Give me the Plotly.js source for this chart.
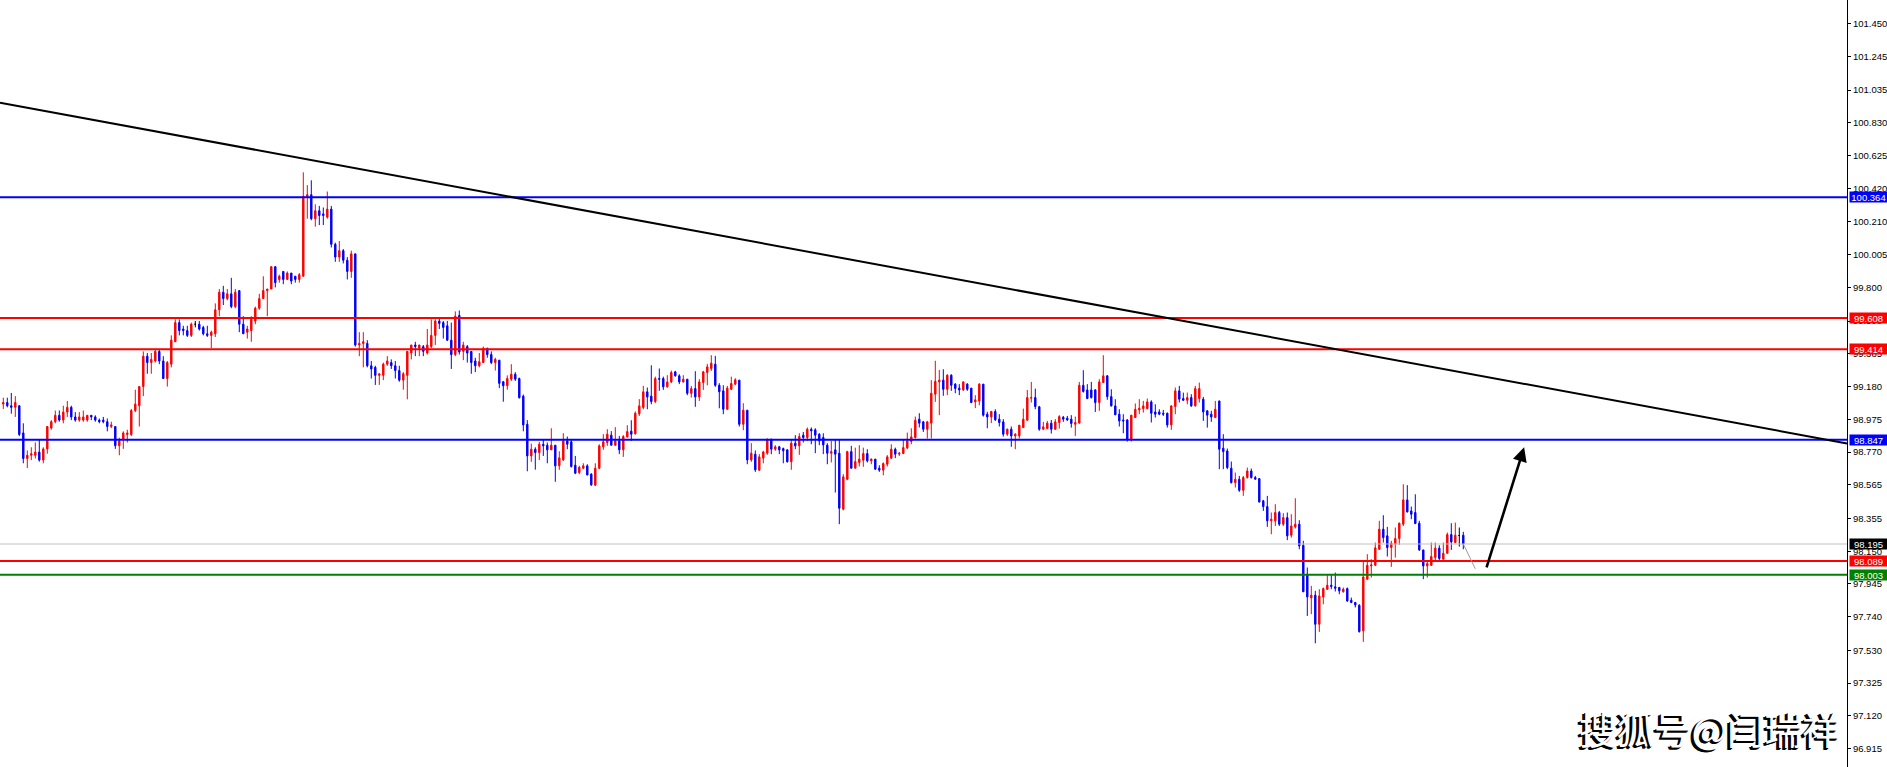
<!DOCTYPE html>
<html><head><meta charset="utf-8">
<script src="https://cdn.plot.ly/plotly-3.0.1.min.js"></script>
<style>html,body{margin:0;padding:0;background:#fff;overflow:hidden}#chart{width:1887px;height:767px}</style>
</head><body><div id="chart"></div>
<script>
// ---- candle data (one bar per index) ----
const openP = [99.07,99.08,99.06,99.05,99.06,98.89,98.73,98.75,98.75,98.77,
98.72,98.79,98.92,98.96,99.00,98.97,99.02,99.05,98.99,98.97,
98.97,98.97,99.00,98.99,98.97,98.97,98.96,98.93,98.93,98.81,
98.85,98.88,98.88,99.03,99.06,99.18,99.37,99.33,99.34,99.40,
99.34,99.23,99.32,99.46,99.58,99.54,99.53,99.50,99.57,99.57,
99.55,99.51,99.50,99.51,99.66,99.77,99.73,99.76,99.68,99.78,
99.57,99.52,99.53,99.59,99.67,99.73,99.78,99.79,99.93,99.85,
99.90,99.85,99.89,99.87,99.85,99.87,100.37,100.38,100.23,100.28,
100.26,100.24,100.29,100.07,99.99,100.03,99.97,99.90,100.01,99.44,
99.45,99.45,99.31,99.30,99.25,99.25,99.32,99.33,99.31,99.28,
99.22,99.25,99.39,99.44,99.42,99.43,99.39,99.43,99.50,99.59,
99.58,99.56,99.47,99.38,99.625,99.40,99.43,99.40,99.34,99.31,
99.33,99.42,99.38,99.33,99.345,99.21,99.185,99.226,99.257,99.23,
99.12,98.944,98.746,98.788,98.767,98.819,98.813,98.784,98.813,98.684,
98.721,98.84,98.834,98.688,98.642,98.669,98.684,98.632,98.563,98.669,
98.803,98.83,98.876,98.813,98.84,98.784,98.865,98.901,98.884,99.009,
99.049,99.147,99.12,99.086,99.23,99.23,99.178,99.209,99.272,99.247,
99.209,99.226,99.138,99.167,99.115,99.205,99.268,99.293,99.32,99.188,
99.153,99.038,99.163,99.195,99.22,98.944,99.032,98.721,98.757,98.657,
98.732,98.763,98.851,98.788,98.803,98.792,98.784,98.709,98.826,98.809,
98.876,98.861,98.913,98.909,98.882,98.861,98.813,98.763,98.784,98.763,
98.413,98.60,98.773,98.669,98.705,98.719,98.761,98.715,98.726,98.669,
98.657,98.694,98.732,98.788,98.757,98.761,98.796,98.836,98.861,98.976,
98.959,98.913,98.951,99.132,99.209,99.22,99.163,99.251,99.195,99.17,
99.159,99.195,99.17,99.084,99.09,99.195,99.007,98.99,99.024,98.976,
98.959,98.882,98.913,98.871,98.871,98.923,98.969,99.107,99.111,99.053,
98.913,98.917,98.951,98.913,98.955,98.988,98.982,98.976,98.944,98.951,
99.188,99.159,99.159,99.159,99.08,99.205,99.247,99.117,99.059,99.007,
98.971,98.971,98.85,98.986,99.034,99.042,99.042,99.084,99.021,99.021,
99.013,99.013,98.94,99.055,99.153,99.105,99.094,99.111,99.059,99.105,
99.101,99.028,99.007,98.986,99.09,98.794,98.777,98.669,98.579,98.60,
98.531,98.611,98.652,98.611,98.604,98.465,98.429,98.34,98.34,98.392,
98.319,98.36,98.25,98.302,98.319,98.187,98.006,97.858,97.875,97.693,
97.864,97.912,97.937,97.927,97.923,97.896,97.916,97.843,97.829,97.812,
97.652,97.975,98.058,98.062,98.162,98.288,98.246,98.173,98.194,98.229,
98.319,98.471,98.402,98.392,98.325,98.158,98.058,98.062,98.11,98.169,
98.10,98.137,98.254,98.204,98.248,98.25];

const highP = [99.11,99.11,99.14,99.12,99.06,98.95,98.78,98.80,98.83,98.85,
98.80,98.93,98.97,99.03,99.03,99.06,99.09,99.06,99.02,99.02,
99.03,99.00,99.00,99.00,98.98,98.99,98.98,98.96,98.93,98.86,
98.90,98.91,99.04,99.16,99.18,99.40,99.39,99.39,99.41,99.41,
99.37,99.34,99.50,99.60,99.60,99.56,99.56,99.58,99.59,99.59,
99.56,99.56,99.53,99.70,99.79,99.81,99.79,99.86,99.79,99.78,
99.62,99.56,99.62,99.68,99.76,99.87,99.79,99.93,99.93,99.88,
99.90,99.90,99.89,99.87,99.89,100.52,100.44,100.47,100.32,100.31,
100.30,100.40,100.31,100.08,100.09,100.04,99.99,100.03,100.01,99.52,
99.52,99.47,99.34,99.31,99.26,99.33,99.37,99.35,99.34,99.31,
99.27,99.40,99.44,99.46,99.44,99.44,99.54,99.60,99.60,99.61,
99.59,99.59,99.58,99.65,99.656,99.46,99.44,99.40,99.36,99.39,
99.43,99.42,99.40,99.36,99.345,99.215,99.25,99.32,99.27,99.236,
99.13,98.97,98.823,98.80,98.834,98.85,98.83,98.919,98.813,98.775,
98.888,98.867,98.85,98.746,98.684,98.70,98.694,98.638,98.70,98.819,
98.882,98.913,98.901,98.926,98.871,98.876,98.938,98.969,99.024,99.101,
99.184,99.174,99.313,99.242,99.293,99.242,99.251,99.28,99.278,99.257,
99.251,99.226,99.184,99.276,99.226,99.278,99.322,99.376,99.372,99.201,
99.188,99.184,99.242,99.232,99.22,99.076,99.032,98.826,98.78,98.757,
98.778,98.855,98.851,98.813,98.809,98.798,98.788,98.851,98.876,98.888,
98.896,98.924,98.924,98.919,98.888,98.888,98.826,98.84,98.851,98.851,
98.632,98.778,98.809,98.798,98.813,98.798,98.788,98.73,98.726,98.688,
98.705,98.751,98.819,98.798,98.771,98.851,98.892,98.919,98.992,99.013,
98.965,98.965,99.22,99.341,99.284,99.288,99.257,99.257,99.201,99.195,
99.213,99.201,99.17,99.126,99.201,99.195,99.022,99.028,99.038,99.007,
98.976,98.917,98.93,98.888,98.938,99.042,99.159,99.209,99.167,99.059,
98.959,98.965,98.971,98.976,99.001,98.996,98.996,99.001,98.992,99.209,
99.282,99.195,99.209,99.163,99.226,99.376,99.251,99.163,99.101,99.038,
99.007,98.976,99.001,99.074,99.101,99.09,99.105,99.094,99.069,99.038,
99.034,99.017,99.063,99.174,99.184,99.142,99.142,99.132,99.184,99.205,
99.115,99.032,99.028,99.09,99.09,98.882,98.792,98.711,98.642,98.621,
98.621,98.673,98.667,98.621,98.604,98.471,98.496,98.392,98.444,98.402,
98.388,98.392,98.381,98.481,98.344,98.215,98.048,97.933,97.902,97.912,
97.923,98.00,98.00,98.016,97.927,97.923,97.923,97.86,97.833,97.818,
98.089,98.131,98.10,98.204,98.34,98.375,98.302,98.215,98.298,98.329,
98.569,98.563,98.429,98.506,98.34,98.158,98.094,98.204,98.204,98.187,
98.204,98.267,98.325,98.329,98.298,98.271];

const lowP = [99.04,99.05,99.01,98.99,98.87,98.70,98.67,98.72,98.73,98.71,
98.70,98.76,98.91,98.95,98.96,98.95,98.99,98.97,98.96,98.96,
98.96,98.96,98.97,98.96,98.95,98.95,98.90,98.92,98.79,98.75,
98.79,98.83,98.87,99.02,98.93,99.12,99.26,99.26,99.33,99.32,
99.23,99.18,99.30,99.46,99.50,99.50,99.49,99.49,99.55,99.53,
99.50,99.49,99.42,99.49,99.62,99.69,99.72,99.67,99.67,99.52,
99.51,99.48,99.46,99.57,99.66,99.73,99.62,99.79,99.80,99.83,
99.82,99.85,99.82,99.83,99.83,99.87,100.23,100.22,100.18,100.19,
100.19,100.23,100.05,99.96,99.96,99.95,99.85,99.86,99.43,99.37,
99.30,99.30,99.23,99.19,99.19,99.22,99.31,99.29,99.23,99.21,
99.16,99.10,99.35,99.37,99.37,99.37,99.38,99.42,99.44,99.54,
99.48,99.465,99.29,99.37,99.38,99.345,99.33,99.26,99.27,99.30,
99.33,99.36,99.32,99.28,99.17,99.085,99.16,99.215,99.215,99.105,
98.90,98.65,98.709,98.66,98.72,98.746,98.70,98.784,98.584,98.659,
98.715,98.788,98.673,98.632,98.632,98.663,98.625,98.559,98.559,98.663,
98.784,98.809,98.813,98.809,98.757,98.74,98.861,98.84,98.88,98.996,
99.038,99.038,99.069,99.076,99.153,99.159,99.174,99.201,99.242,99.195,
99.205,99.126,99.111,99.053,99.09,99.159,99.188,99.278,99.178,99.044,
99.007,99.034,99.159,99.188,98.93,98.907,98.694,98.709,98.646,98.652,
98.70,98.753,98.757,98.778,98.757,98.70,98.705,98.659,98.788,98.753,
98.83,98.84,98.819,98.763,98.813,98.757,98.694,98.705,98.517,98.319,
98.406,98.594,98.669,98.669,98.68,98.678,98.705,98.694,98.659,98.646,
98.625,98.68,98.726,98.732,98.746,98.761,98.788,98.819,98.855,98.924,
98.896,98.855,98.855,99.084,99.001,99.122,99.126,99.153,99.138,99.126,
99.153,99.153,99.076,99.045,99.063,98.992,98.919,98.951,98.965,98.93,
98.867,98.871,98.803,98.788,98.855,98.923,98.969,99.08,99.038,98.903,
98.909,98.913,98.886,98.909,98.917,98.959,98.965,98.923,98.871,98.951,
99.142,99.101,99.105,99.021,99.028,99.205,99.097,99.055,99.003,98.93,
98.888,98.836,98.836,98.986,99.007,99.017,99.038,98.955,98.986,99.001,
98.996,98.923,98.909,99.007,99.08,99.09,99.069,99.053,99.055,99.08,
98.965,98.923,98.959,98.986,98.663,98.663,98.663,98.573,98.548,98.521,
98.496,98.604,98.604,98.60,98.454,98.402,98.302,98.256,98.308,98.308,
98.308,98.219,98.235,98.292,98.162,97.896,97.745,97.756,97.574,97.645,
97.818,97.908,97.912,97.898,97.881,97.891,97.833,97.825,97.798,97.641,
97.583,97.971,97.985,98.058,98.158,98.204,98.117,98.052,98.11,98.19,
98.308,98.392,98.35,98.319,98.152,97.975,97.985,98.058,98.089,98.083,
98.10,98.137,98.158,98.20,98.179,98.162];

const closeP = [99.08,99.06,99.05,99.08,98.88,98.73,98.75,98.76,98.77,98.72,
98.79,98.93,98.96,99.00,98.97,99.02,99.05,98.99,98.97,98.99,
98.99,99.00,98.99,98.97,98.96,98.96,98.93,98.94,98.81,98.84,
98.89,98.89,99.03,99.07,99.18,99.37,99.33,99.35,99.40,99.34,
99.23,99.33,99.47,99.58,99.53,99.53,99.50,99.57,99.57,99.54,
99.51,99.50,99.52,99.66,99.77,99.73,99.76,99.68,99.77,99.57,
99.51,99.54,99.60,99.67,99.73,99.78,99.79,99.93,99.83,99.87,
99.85,99.89,99.84,99.85,99.88,100.37,100.38,100.23,100.28,100.25,
100.25,100.29,100.07,99.99,100.03,99.97,99.90,100.01,99.44,99.45,
99.46,99.31,99.29,99.25,99.26,99.32,99.34,99.31,99.28,99.22,
99.26,99.40,99.44,99.43,99.44,99.40,99.44,99.50,99.59,99.575,
99.55,99.47,99.38,99.62,99.396,99.44,99.39,99.33,99.31,99.335,
99.42,99.38,99.33,99.35,99.20,99.185,99.23,99.257,99.226,99.11,
98.94,98.746,98.788,98.767,98.819,98.809,98.784,98.813,98.684,98.734,
98.84,98.819,98.68,98.638,98.675,98.684,98.627,98.565,98.669,98.809,
98.834,98.882,98.813,98.84,98.784,98.867,98.898,98.882,99.013,99.059,
99.147,99.115,99.086,99.23,99.226,99.178,99.209,99.268,99.247,99.209,
99.226,99.138,99.167,99.115,99.209,99.272,99.303,99.326,99.188,99.147,
99.038,99.17,99.199,99.222,98.944,99.032,98.721,98.763,98.659,98.74,
98.771,98.851,98.788,98.803,98.784,98.778,98.709,98.826,98.809,98.867,
98.861,98.913,98.903,98.876,98.84,98.815,98.763,98.773,98.757,98.419,
98.615,98.773,98.669,98.711,98.726,98.761,98.715,98.726,98.663,98.657,
98.698,98.74,98.788,98.757,98.763,98.798,98.84,98.865,98.969,98.951,
98.913,98.959,99.138,99.213,99.22,99.163,99.251,99.188,99.168,99.159,
99.209,99.163,99.08,99.097,99.195,99.001,98.99,99.024,98.972,98.955,
98.882,98.913,98.871,98.882,98.938,98.976,99.111,99.111,99.055,98.913,
98.928,98.951,98.913,98.959,98.992,98.976,98.971,98.949,98.955,99.188,
99.149,99.105,99.111,99.08,99.209,99.247,99.117,99.059,99.003,98.965,
98.965,98.85,99.001,99.038,99.044,99.059,99.084,99.013,99.007,99.007,
99.007,98.94,99.059,99.153,99.101,99.094,99.111,99.059,99.167,99.167,
99.021,99.001,98.99,99.038,98.788,98.773,98.673,98.579,98.60,98.531,
98.611,98.652,98.611,98.60,98.458,98.429,98.34,98.35,98.392,98.319,
98.36,98.246,98.308,98.319,98.183,97.896,97.864,97.875,97.693,97.87,
97.916,97.937,97.929,97.918,97.902,97.912,97.839,97.829,97.814,97.647,
97.989,98.062,98.064,98.171,98.288,98.235,98.173,98.20,98.229,98.325,
98.471,98.396,98.381,98.323,98.158,98.058,98.073,98.117,98.169,98.104,
98.137,98.254,98.208,98.25,98.248,98.195];

// ---- price axis ticks ----
const yTickVals = [101.450,101.245,101.035,100.830,100.625,100.420,100.210,100.005,99.800,99.590,99.385,99.180,98.975,98.770,98.565,98.355,98.150,97.945,97.740,97.530,97.325,97.120,96.915];
const yTickText = ['101.450','101.245','101.035','100.830','100.625','100.420','100.210','100.005','99.800','99.590','99.385','99.180','98.975','98.770','98.565','98.355','98.150','97.945','97.740','97.530','97.325','97.120','96.915'];

// ---- horizontal levels ----
const levelPrices = [100.364, 99.608, 99.414, 98.847, 98.089, 98.003];
const levelLabels = ['100.364','99.608','99.414','98.847','98.089','98.003'];
const levelColors = ['#0000FF','#FF0000','#FF0000','#0000FF','#FF0000','#008000'];
const currentPrice = 98.195;
const currentLabel = '98.195';

// ---- drawn objects ----
const trendLinePrices = [100.956, 98.824];          // at left and right edge
const projectionX = [365, 368, 370.7, 380.2];      // bar-index positions
const projectionY = [98.195, 98.04, 98.04, 98.80];
const watermarkText = '搜狐号@闫瑞祥';

const fontFam = 'Liberation Sans, Arial, sans-serif';
const xIdx = openP.map((_, i) => i);
const isDoji = i => openP[i] === closeP[i];
const pick = (arr, f) => xIdx.filter(f).map(i => arr[i]);
const normal = i => !isDoji(i), doji = i => isDoji(i);

const traces = [
  {type:'candlestick', x: pick(xIdx, normal), open: pick(openP, normal), high: pick(highP, normal),
   low: pick(lowP, normal), close: pick(closeP, normal),
   increasing:{line:{color:'#FF0000', width:1}, fillcolor:'#FF0000'},
   decreasing:{line:{color:'#0000FF', width:1}, fillcolor:'#0000FF'},
   whiskerwidth:0, hoverinfo:'skip', showlegend:false},
  {type:'candlestick', x: pick(xIdx, doji), open: pick(openP, doji), high: pick(highP, doji),
   low: pick(lowP, doji), close: pick(closeP, doji),
   increasing:{line:{color:'#000000', width:1}, fillcolor:'#000000'},
   decreasing:{line:{color:'#000000', width:1}, fillcolor:'#000000'},
   whiskerwidth:0, hoverinfo:'skip', showlegend:false}
];

const shapes = [];
shapes.push({type:'line', xref:'paper', yref:'y', x0:0, x1:1, y0:currentPrice, y1:currentPrice,
  line:{color:'#C0C0C0', width:1}});
levelPrices.forEach((p, k) => shapes.push({type:'line', xref:'paper', yref:'y', x0:0, x1:1, y0:p, y1:p,
  line:{color:levelColors[k], width:2}}));
shapes.push({type:'line', xref:'paper', yref:'y', x0:0, x1:1, y0:trendLinePrices[0], y1:trendLinePrices[1],
  line:{color:'#000000', width:2}});
shapes.push({type:'line', xref:'x', yref:'y', x0:projectionX[0], y0:projectionY[0], x1:projectionX[1], y1:projectionY[1],
  line:{color:'#9a9a9a', width:1}});

const annotations = [];
const boxLabel = (y, txt, bg) => ({xref:'paper', x:1, xanchor:'left', xshift:2, yref:'y', y:y, yanchor:'middle',
  text:txt, showarrow:false, font:{family:fontFam, size:9.5, color:'#FFFFFF'}, bgcolor:bg,
  width:37, height:10, borderpad:0, align:'center', valign:'middle'});
levelPrices.forEach((p, k) => annotations.push(boxLabel(p, levelLabels[k], levelColors[k])));
annotations.push(boxLabel(currentPrice, currentLabel, '#000000'));
annotations.push({xref:'x', yref:'y', x:projectionX[3], y:projectionY[3], axref:'x', ayref:'y',
  ax:projectionX[2], ay:projectionY[2], text:'', showarrow:true, arrowhead:2, arrowsize:1.1,
  arrowwidth:2.6, arrowcolor:'#000000'});
// watermark: white text with a dark shadow down-left
[[-1,-1],[-2,-2],[-2.5,-2.5]].forEach(([dx, dy]) => annotations.push({xref:'paper', yref:'paper', x:0.9965, y:0.052,
  xanchor:'right', yanchor:'middle', xshift:dx, yshift:dy, text:watermarkText, showarrow:false,
  font:{family:'Noto Sans CJK SC, sans-serif', size:37.5, color:'#000000'}}));
annotations.push({xref:'paper', yref:'paper', x:0.9965, y:0.052, xanchor:'right', yanchor:'middle',
  text:watermarkText, showarrow:false,
  font:{family:'Noto Sans CJK SC, sans-serif', size:37.5, color:'#FFFFFF'}});

const layout = {
  width:1887, height:767, margin:{l:0, r:40, t:0, b:0, pad:0},
  paper_bgcolor:'#FFFFFF', plot_bgcolor:'#FFFFFF', showlegend:false,
  boxgap:0.5, dragmode:false, hovermode:false,
  xaxis:{range:[-0.825, 460.925], visible:false, showgrid:false, zeroline:false,
         rangeslider:{visible:false}, fixedrange:true},
  yaxis:{side:'right', range:[96.80, 101.598], tickmode:'array', tickvals:yTickVals, ticktext:yTickText,
         showgrid:false, zeroline:false, showline:true, linecolor:'#000000', linewidth:1,
         ticks:'outside', ticklen:3, tickwidth:1, tickcolor:'#000000',
         tickfont:{family:fontFam, size:9.5, color:'#000000'}, automargin:false, fixedrange:true},
  shapes: shapes,
  annotations: annotations
};

Plotly.newPlot('chart', traces, layout, {staticPlot:true, displayModeBar:false});
</script>
</body></html>
